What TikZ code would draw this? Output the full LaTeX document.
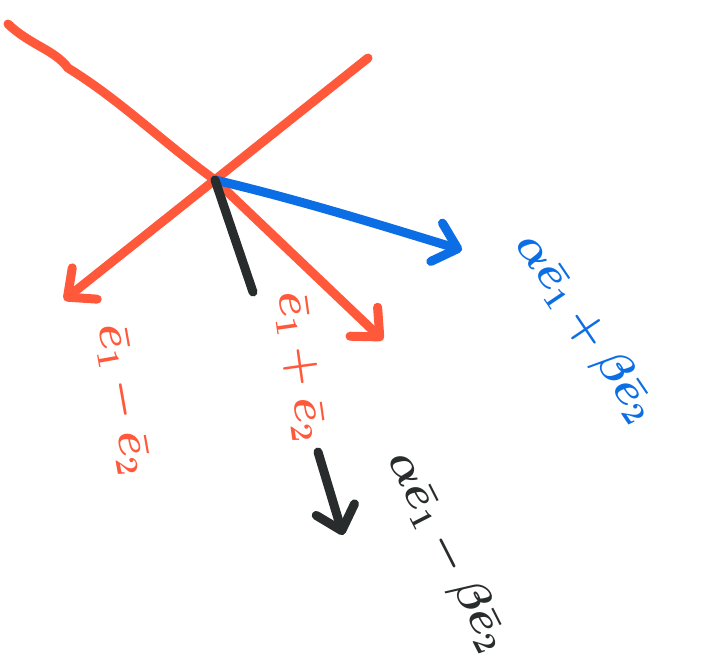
\documentclass[tikz,border=0pt]{standalone}
\usetikzlibrary{arrows.meta}
\definecolor{penred}{RGB}{255,88,58}
\definecolor{penblue}{RGB}{12,110,228}
\definecolor{penblack}{RGB}{40,44,44}
\begin{document}
\begin{tikzpicture}[x=1pt,y=-1pt,
  pen/.style={line width=9pt,line cap=round,line join=round},
  tip/.style={-{Straight Barb[length=22pt,width=40pt,line width=9pt,round]}},
  lbl/.style={font=\huge\boldmath,scale=2.2,inner sep=0pt}]
\useasboundingbox (0,0) rectangle (703,665);
\coordinate (tl) at (8,24);
\coordinate (o) at (215,180);
\coordinate (br) at (383,340);
\coordinate (tr) at (368,58);
\coordinate (bl) at (64,300);
\coordinate (bt) at (462,250);
\coordinate (k1) at (253,292);
\coordinate (k2s) at (318,452);
\coordinate (k2e) at (343,535);
% red axes
\draw[pen,penred] (tl) .. controls (30,45) and (55,50) .. (68,68) .. controls (120,100) and (160,140) .. (o);
\draw[pen,penred,tip] (o) -- (br);
\draw[pen,penred,tip] (tr) -- (bl);
% blue
\draw[pen,penblue,tip] (o) .. controls (300,200) and (380,225) .. (bt);
% black
\draw[pen,penblack] (o) -- (k1);
\draw[pen,penblack,tip] (k2s) -- (k2e);
% labels
\node[lbl,text=penred,rotate=-80] (l1) at (123,400) {$\bar{e}_1-\bar{e}_2$};
\node[lbl,text=penred,rotate=-82] (l2) at (300,367) {$\bar{e}_1+\bar{e}_2$};
\node[lbl,text=penblue,rotate=-56] (l3) at (585,328) {$\alpha\bar{e}_1+\beta\bar{e}_2$};
\node[lbl,text=penblack,rotate=-63] (l4) at (447,552) {$\alpha\bar{e}_1-\beta\bar{e}_2$};
\end{tikzpicture}
\end{document}
